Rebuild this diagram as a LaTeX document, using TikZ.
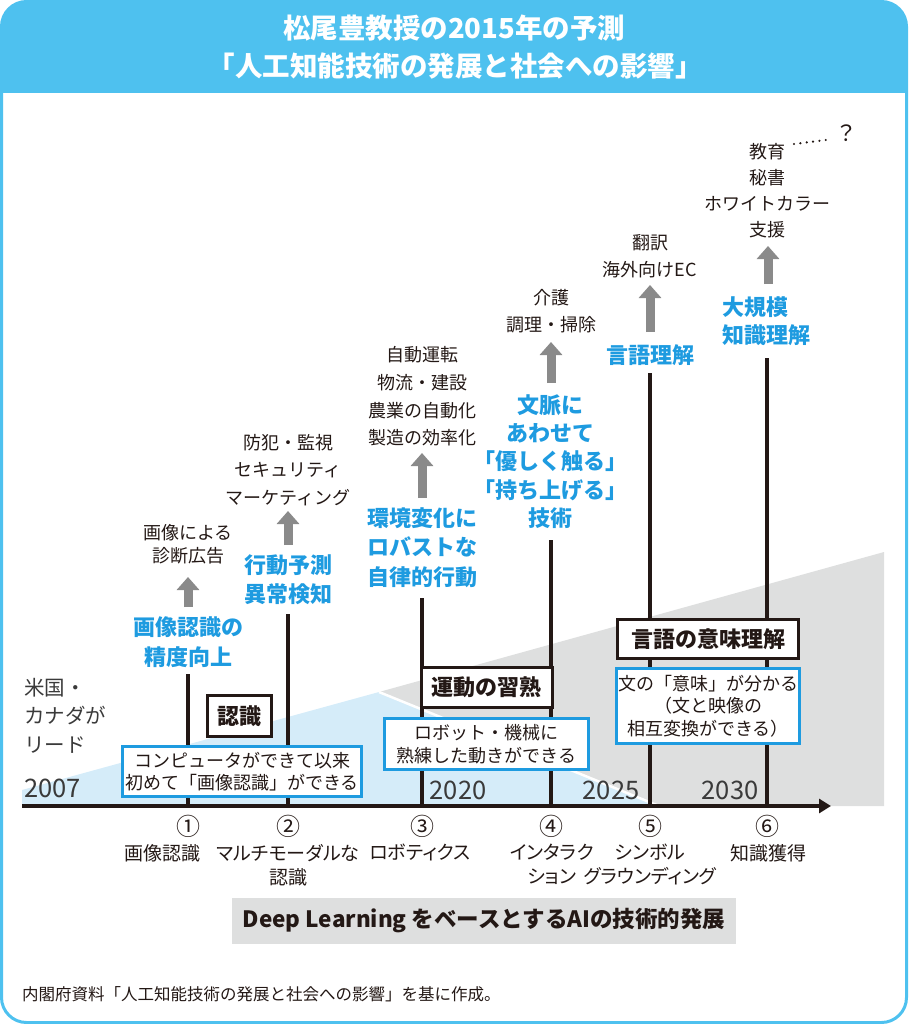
\documentclass[tikz,border=0pt]{standalone}
\usepackage{fontspec}
\setmainfont{Noto Sans CJK JP}
\newfontfamily\jpp[RawFeature=+palt]{Noto Sans CJK JP}
\usetikzlibrary{arrows.meta}
\definecolor{hdr}{HTML}{4EC1EF}
\definecolor{lblue}{HTML}{1E9BE0}
\definecolor{tri}{HTML}{D5ECF9}
\definecolor{gtri}{HTML}{DEDFDF}
\definecolor{garr}{HTML}{8A8A8A}
\definecolor{ink}{HTML}{231815}
\definecolor{yr}{HTML}{3A3A3A}
\newcommand\fsz[2]{\fontsize{#1}{#2}\selectfont}
\begin{document}
\begin{tikzpicture}[x=1pt,y=-1pt,
  titlefont/.style={font=\bfseries\fsz{27.5}{32}, text=white, inner sep=0},
  usetxt/.style={font=\fsz{18}{27.5}, text=ink, align=center, inner sep=0},
  bluelab/.style={font=\bfseries\fsz{22}{29.5}, text=lblue, align=center, inner sep=0},
  blackbox/.style={draw=ink, line width=3, fill=white, font=\bfseries\fsz{22}{26}, text=ink, inner sep=0},
  bluebox/.style={draw=lblue, line width=3, fill=white, font=\fsz{18}{22.5}, text=ink, align=center, inner sep=0},
  vline/.style={draw=ink, line width=3.2},
  garrow/.style={draw=garr, line width=9, -{Triangle[width=22pt,length=13pt]}},
  numtxt/.style={font=\fsz{24}{28}, text=ink, inner sep=0},
  bottxt/.style={font=\jpp\fsz{19}{24}, text=ink, align=center, inner sep=0},
  yeartxt/.style={font=\fsz{25.5}{28}, text=yr, inner sep=0},
]
\useasboundingbox (0,0) rectangle (908,1024);
% frame and header
\fill[hdr, rounded corners=25] (1.5,1.5) rectangle (906.5,130);
\fill[white] (3,93) rectangle (905,135);
\draw[hdr, line width=3, rounded corners=25] (1.5,1.5) rectangle (906.5,1022.5);
\node[titlefont] (title1) at (454,28) {松尾豊教授の2015年の予測};
\node[titlefont] (title2) at (455,66) {「人工知能技術の発展と社会への影響」};

% background triangles
\fill[gtri] (379,692) -- (884,552) -- (884,806) -- (659,806) -- cycle;
\fill[tri] (22,806) -- (22,790) -- (379,692) -- (659,806) -- cycle;
\draw[white, line width=2.5] (379,692) -- (659,806);

% years
\node[yeartxt, anchor=west] (y2007) at (24,788) {2007};
\node[yeartxt] (y2020) at (458,790) {2020};
\node[yeartxt] (y2025) at (611,790) {2025};
\node[yeartxt] (y2030) at (730,790) {2030};

% axis
\coordinate (axL) at (22,806);
\coordinate (axR) at (831,806);
\draw[ink, line width=3.5, -{Triangle[width=14pt,length=12pt]}] (axL) -- (axR);

% vertical lines
\coordinate (v1) at (188,674); \coordinate (x1) at (188,806);
\coordinate (v2) at (288,614); \coordinate (x2) at (288,806);
\coordinate (v3) at (422,598); \coordinate (x3) at (422,806);
\coordinate (v4) at (551,540); \coordinate (x4) at (551,806);
\coordinate (v5) at (650,373); \coordinate (x5) at (650,806);
\coordinate (v6) at (767,358); \coordinate (x6) at (767,806);
\foreach \i in {1,...,6} {\draw[vline] (v\i) -- (x\i);}

% boxes
\node[blackbox, minimum width=64, minimum height=41] (bx1) at (239.5,716) {認識};
\node[bluebox, minimum width=239, minimum height=50] (bb1) at (242,771.5) {コンピュータができて以来\\初めて「画像認識」ができる};
\node[blackbox, minimum width=131, minimum height=40] (bx2) at (486.5,687.5) {運動の習熟};
\node[bluebox, minimum width=204, minimum height=51] (bb2) at (486.5,744) {ロボット・機械に\\熟練した動きができる};
\node[blackbox, minimum width=181, minimum height=39] (bx3) at (708,639) {言語の意味理解};
\node[bluebox, minimum width=183, minimum height=75] (bb3) at (708,706) {文の「意味」が分かる\\（文と映像の\\相互変換ができる）};

% left label
\node[font=\fsz{20.5}{28.5}, text=yr, align=left, anchor=west, inner sep=0] (lead) at (24,715.5) {米国・\\カナダが\\リード};

% blue labels
\node[bluelab] (lab1) at (188,642) {画像認識の\\精度向上};
\node[bluelab, font=\bfseries\fsz{22}{29}] (lab2) at (288,579.5) {行動予測\\異常検知};
\node[bluelab] (lab3) at (422,547.5) {環境変化に\\ロバストな\\自律的行動};
\node[bluelab, font=\bfseries\fsz{22}{28.25}] (lab4) at (550,461.5) {文脈に\\あわせて\\「優しく触る」\\「持ち上げる」\\技術};
\node[bluelab] (lab5) at (650,355) {言語理解};
\node[bluelab, font=\bfseries\fsz{22}{28}, anchor=west, align=left] (lab6) at (722,321) {大規模\\知識理解};

% use texts
\node[usetxt, font=\fsz{18}{23}] (use1) at (188,544.5) {画像による\\診断広告};
\node[usetxt] (use2) at (288,470) {防犯・監視\\セキュリティ\\マーケティング};
\node[usetxt, font=\fsz{18}{27.7}] (use3) at (422,396.5) {自動運転\\物流・建設\\農業の自動化\\製造の効率化};
\node[usetxt, font=\fsz{18}{27}] (use4) at (551,311.5) {介護\\調理・掃除};
\node[usetxt, font=\fsz{18}{27}] (use5) at (650,256.5) {翻訳\\海外向けEC};
\node[usetxt, font=\fsz{18}{26}] (use6) at (767,191) {教育\\秘書\\ホワイトカラー\\支援};
\node[font=\fsz{22}{24}, text=ink, inner sep=0] (qm) at (846,133) {？};
\coordinate (dotS) at (794,144);
\coordinate (dotE) at (826,140);
\draw[ink, line width=2.4, line cap=round, dash pattern=on 0pt off 6.4pt] (dotS) -- (dotE);

% gray arrows
\coordinate (g1s) at (188,607); \coordinate (g1e) at (188,577);
\coordinate (g2s) at (288,545); \coordinate (g2e) at (288,511);
\coordinate (g3s) at (422,498); \coordinate (g3e) at (422,453);
\coordinate (g4s) at (551,383); \coordinate (g4e) at (551,342);
\coordinate (g5s) at (650,332); \coordinate (g5e) at (650,285);
\coordinate (g6s) at (768,284); \coordinate (g6e) at (768,246);
\foreach \i in {1,...,6} {\draw[garrow] (g\i s) -- (g\i e);}

% numbers and bottom labels
\node[numtxt] (n1) at (188,826) {①};
\node[numtxt] (n2) at (288,826) {②};
\node[numtxt] (n3) at (422,826) {③};
\node[numtxt] (n4) at (551,826) {④};
\node[numtxt] (n5) at (650,826) {⑤};
\node[numtxt] (n6) at (767,826) {⑥};
\node[bottxt, anchor=north] (b1) at (162,844) {画像認識};
\node[bottxt, anchor=north] (b2) at (288,844) {マルチモーダルな\\認識};
\node[bottxt, anchor=north] (b3) at (420,844) {ロボティクス};
\node[bottxt, anchor=north] (b4) at (552,844) {インタラク\\ション};
\node[bottxt, anchor=north] (b5) at (650,844) {シンボル\\グラウンディング};
\node[bottxt, anchor=north] (b6) at (768,844) {知識獲得};

% deep learning band
\node[fill=gtri, minimum width=504, minimum height=46, inner sep=0, font=\bfseries\fsz{22.5}{26}, text=ink] (dl) at (484,921) {Deep Learning をベースとするAIの技術的発展};

% footer
\node[anchor=west, font=\fsz{16.5}{20}, text=ink, inner sep=0] (foot) at (22,994) {内閣府資料「人工知能技術の発展と社会への影響」を基に作成。};
\end{tikzpicture}
\end{document}
